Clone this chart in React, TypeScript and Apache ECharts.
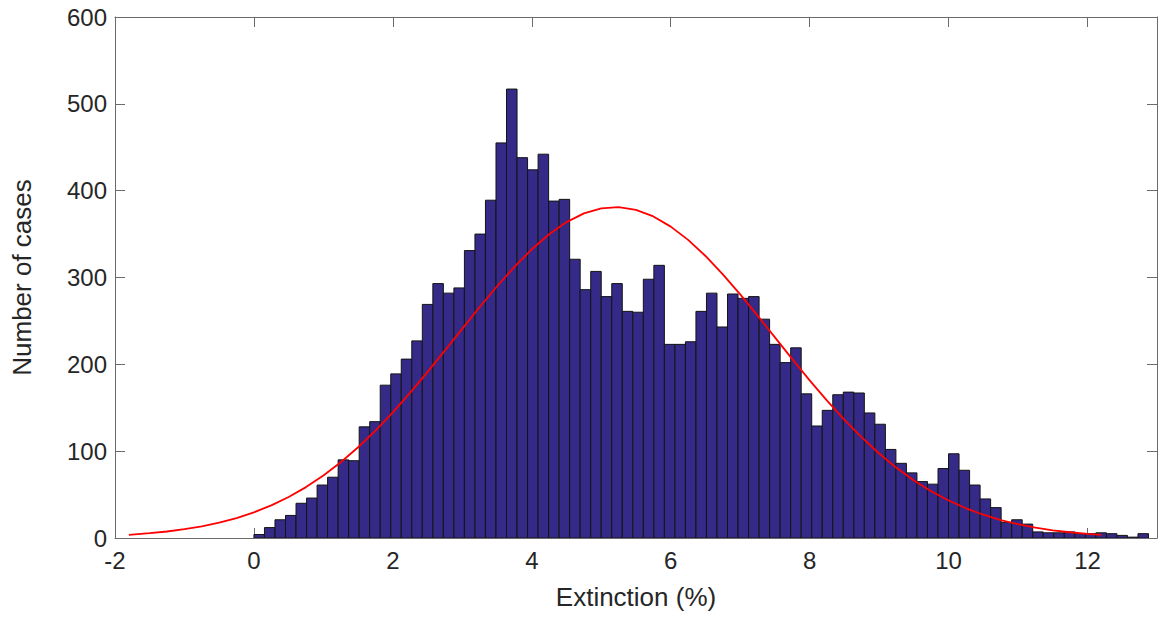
import React, { useEffect, useRef } from "react";
import * as echarts from "echarts";

// Histogram of extinction values: bins start at 0 with a fixed width
const binStart = 0;
const binWidth = 0.1515;
const counts = [
  4, 12, 21, 26, 40, 46, 61, 70, 90, 89,
  128, 134, 176, 189, 206, 227, 269, 293, 282, 288,
  331, 350, 389, 455, 517, 438, 424, 442, 388, 390,
  321, 286, 307, 278, 293, 261, 260, 298, 314, 223,
  223, 226, 261, 282, 243, 281, 276, 278, 252, 223,
  202, 219, 166, 129, 147, 165, 168, 167, 144, 131,
  102, 86, 75, 65, 62, 80, 97, 78, 61, 45,
  35, 18, 21, 16, 7, 6, 6, 7, 5, 5,
  6, 5, 3, 1, 5,
];

// Fitted normal curve, sampled points
const fitX = [
  -1.8, -1.5, -1.25, -1, -0.75, -0.5, -0.25, 0, 0.25, 0.5, 0.75, 1, 1.25,
  1.5, 1.75, 2, 2.25, 2.5, 2.75, 3, 3.25, 3.5, 3.75, 4, 4.25, 4.5, 4.75,
  5, 5.25, 5.5, 5.75, 6, 6.25, 6.5, 6.75, 7, 7.25, 7.5, 7.75, 8, 8.25,
  8.5, 8.75, 9, 9.25, 9.5, 9.75, 10, 10.25, 10.5, 10.75, 11, 11.25, 11.5,
  11.75, 12, 12.2,
];
const fitY = [
  3.7, 5.5, 7.5, 10.1, 13.4, 17.7, 23.0, 29.6, 37.6, 47.2, 58.6, 71.9, 87.2,
  104.5, 123.7, 144.7, 167.4, 191.3, 216.0, 241.1, 266.0, 289.9, 312.3, 332.5,
  349.8, 363.8, 373.8, 379.6, 381.0, 377.8, 370.3, 358.6, 343.3, 324.8, 303.6,
  280.5, 256.1, 231.1, 206.0, 181.6, 158.2, 136.1, 115.8, 97.3, 80.8, 66.3,
  53.8, 43.2, 34.2, 26.8, 20.7, 15.9, 12.0, 8.9, 6.6, 4.8, 3.7,
];

const xTicks = [-2, 0, 2, 4, 6, 8, 10, 12];
const yTicks = [0, 100, 200, 300, 400, 500, 600];

const AXIS_COLOR = "#6b6b6b";
const TEXT_COLOR = "#262626";
const FONT = "'Liberation Sans', Arial, Helvetica, sans-serif";

export default function App() {
  const ref = useRef<HTMLDivElement>(null);

  useEffect(() => {
    document.body.style.margin = "0";
    if (!ref.current) return;
    const chart = echarts.init(ref.current, null, { renderer: "svg" });

    const bins = counts.map((c, i) => [
      binStart + i * binWidth,
      binStart + (i + 1) * binWidth,
      c,
    ]);
    const fit = fitX.map((x, i) => [x, fitY[i]]);

    const commonLine = { show: true, onZero: false, lineStyle: { color: AXIS_COLOR, width: 1 } };
    const commonTick = { show: true, inside: true, length: 10, lineStyle: { color: AXIS_COLOR, width: 1 } };

    chart.setOption({
      animation: false,
      backgroundColor: "#ffffff",
      grid: { left: 115, right: 17, top: 17, bottom: 79, containLabel: false },
      xAxis: [
        {
          type: "value",
          min: -2,
          max: 13,
          interval: 2,
          name: "Extinction (%)",
          nameLocation: "middle",
          nameGap: 46,
          nameTextStyle: { fontSize: 26, color: TEXT_COLOR, fontFamily: FONT },
          axisLine: commonLine,
          axisTick: { ...commonTick, customValues: xTicks },
          axisLabel: {
            customValues: xTicks,
            fontSize: 24,
            color: TEXT_COLOR,
            fontFamily: FONT,
            margin: 10,
          },
          splitLine: { show: false },
        },
        {
          type: "value",
          position: "top",
          min: -2,
          max: 13,
          interval: 2,
          axisLine: commonLine,
          axisTick: { ...commonTick, customValues: xTicks },
          axisLabel: { show: false },
          splitLine: { show: false },
        },
      ],
      yAxis: [
        {
          type: "value",
          min: 0,
          max: 600,
          interval: 100,
          name: "Number of cases",
          nameLocation: "middle",
          nameGap: 80,
          nameTextStyle: { fontSize: 26, color: TEXT_COLOR, fontFamily: FONT },
          axisLine: commonLine,
          axisTick: { ...commonTick, customValues: yTicks },
          axisLabel: {
            customValues: yTicks,
            fontSize: 24,
            color: TEXT_COLOR,
            fontFamily: FONT,
            margin: 8,
          },
          splitLine: { show: false },
        },
        {
          type: "value",
          position: "right",
          min: 0,
          max: 600,
          interval: 100,
          axisLine: commonLine,
          axisTick: { ...commonTick, customValues: yTicks },
          axisLabel: { show: false },
          splitLine: { show: false },
        },
      ],
      series: [
        {
          type: "custom",
          xAxisIndex: 0,
          yAxisIndex: 0,
          data: bins,
          encode: { x: [0, 1], y: 2 },
          clip: true,
          renderItem: (_params: any, api: any) => {
            const p0 = api.coord([api.value(0), api.value(2)]);
            const p1 = api.coord([api.value(1), 0]);
            return {
              type: "rect",
              shape: { x: p0[0], y: p0[1], width: p1[0] - p0[0], height: p1[1] - p0[1] },
              style: { fill: "#352a87", stroke: "#141414", lineWidth: 1 },
            };
          },
          z: 2,
        },
        {
          type: "line",
          xAxisIndex: 0,
          yAxisIndex: 0,
          data: fit,
          smooth: false,
          showSymbol: false,
          symbol: "none",
          lineStyle: { color: "#ff0000", width: 1.8 },
          z: 3,
        },
      ],
    });

    return () => chart.dispose();
  }, []);

  return <div ref={ref} style={{ width: 1174, height: 617 }} />;
}
